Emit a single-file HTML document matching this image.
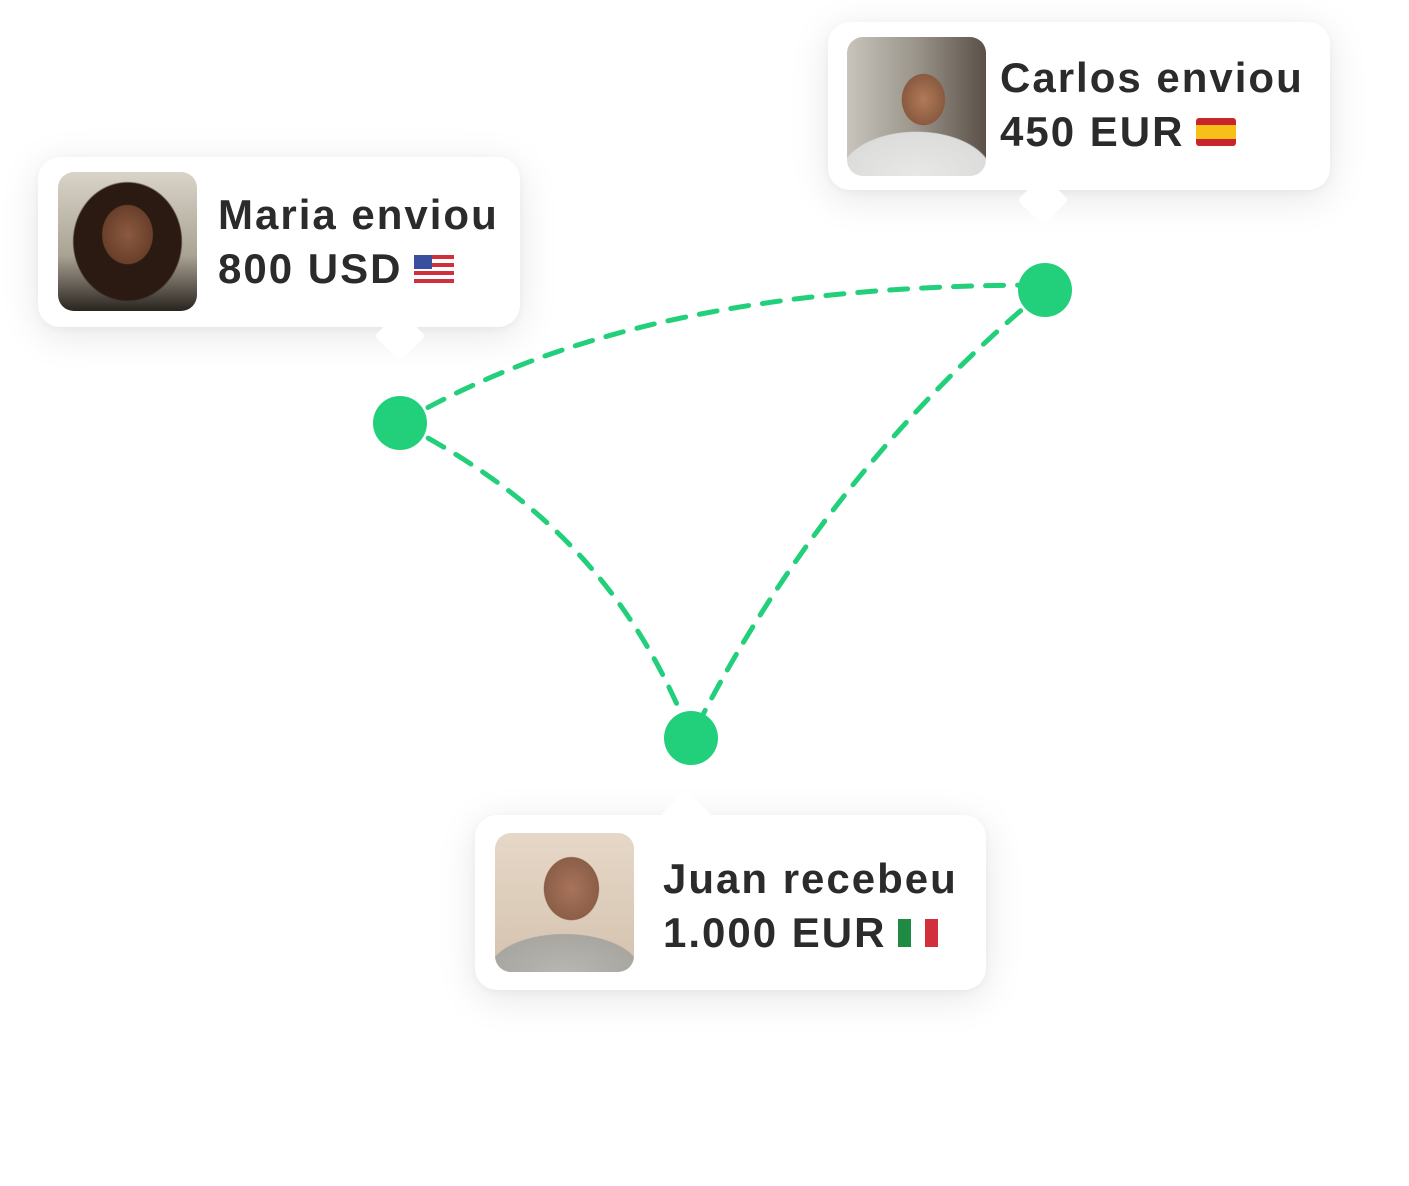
<!DOCTYPE html>
<html><head><meta charset="utf-8"><style>
html,body{margin:0;padding:0;background:#fff;}
body{width:1409px;height:1186px;position:relative;overflow:hidden;font-family:"Liberation Sans",sans-serif;}
.card{position:absolute;background:#fff;border-radius:22px;box-shadow:0 8px 40px rgba(0,0,0,0.10),0 2px 8px rgba(0,0,0,0.04);}
.ptr{position:absolute;width:36px;height:36px;background:#fff;transform:rotate(45deg);border-radius:4px;}
.photo{position:absolute;width:139px;height:139px;border-radius:16px;}
.t{position:absolute;font-size:42px;font-weight:bold;color:#2b2b2b;line-height:54px;letter-spacing:2px;white-space:nowrap;}
.flag{display:inline-block;vertical-align:0px;margin-left:12px;}
svg.lines{position:absolute;left:0;top:0;}
</style></head><body>
<svg class="lines" width="1409" height="1186">
<g fill="none" stroke="#22cf7a" stroke-width="5" stroke-dasharray="18 14" stroke-linecap="round">
<path d="M400,423 C560,330 760,285 1045,285"/>
<path d="M400,423 C530,490 630,580 691,738"/>
<path d="M1045,290 C900,410 780,560 691,738"/>
</g>
<circle cx="400" cy="423" r="27" fill="#22cf7a"/>
<circle cx="1045" cy="290" r="27" fill="#22cf7a"/>
<circle cx="691" cy="738" r="27" fill="#22cf7a"/>
</svg>

<div class="card" style="left:38px;top:157px;width:482px;height:170px;"></div>
<div class="ptr" style="left:382px;top:318px;"></div>
<div class="photo" style="left:58px;top:172px;background:radial-gradient(ellipse 30% 35% at 50% 45%,#8a5a40 0%,#6a3f2a 60%,transparent 62%),radial-gradient(ellipse 55% 60% at 50% 50%,#2a1a12 0%,#2a1a12 70%,transparent 72%),linear-gradient(180deg,#d9d4c8,#a9a394 60%,#2a2420);"></div>
<div class="t" style="left:218px;top:188px;">Maria enviou<br>800 USD<svg class="flag" width="40" height="28" viewBox="0 0 40 28"><rect width="40" height="28" rx="3" fill="#fff"/><g fill="#d22f3c"><rect y="0" width="40" height="4"/><rect y="8" width="40" height="4"/><rect y="16" width="40" height="4"/><rect y="24" width="40" height="4"/></g><rect width="18" height="14" fill="#3b4fa0"/></svg></div>

<div class="card" style="left:828px;top:22px;width:502px;height:168px;"></div>
<div class="ptr" style="left:1025px;top:182px;"></div>
<div class="photo" style="left:847px;top:37px;background:radial-gradient(ellipse 22% 26% at 55% 45%,#b07a58 0%,#8a5a40 70%,transparent 72%),radial-gradient(ellipse 60% 35% at 50% 100%,#e8e8e6 0%,#dcdcda 90%,transparent 92%),linear-gradient(90deg,#c8c4bc,#9a948a 50%,#5a5048);"></div>
<div class="t" style="left:1000px;top:51px;">Carlos enviou<br>450 EUR<svg class="flag" width="40" height="28" viewBox="0 0 40 28"><rect width="40" height="28" rx="3" fill="#c8262c"/><rect y="7" width="40" height="14" fill="#f6c019"/></svg></div>

<div class="card" style="left:475px;top:815px;width:511px;height:175px;"></div>
<div class="ptr" style="left:668px;top:797px;"></div>
<div class="photo" style="left:495px;top:833px;background:radial-gradient(ellipse 28% 32% at 55% 40%,#a8745a 0%,#8c5e48 70%,transparent 72%),radial-gradient(ellipse 60% 30% at 50% 100%,#b8b6b0 0%,#a8a6a0 90%,transparent 92%),linear-gradient(180deg,#e6d8c8,#d4c2ae);"></div>
<div class="t" style="left:663px;top:852px;">Juan recebeu<br>1.000 EUR<svg class="flag" width="40" height="28" viewBox="0 0 40 28"><rect width="40" height="28" rx="3" fill="#fff"/><rect width="13" height="28" fill="#1e8a44"/><rect x="27" width="13" height="28" fill="#d22f3c"/></svg></div>
</body></html>
